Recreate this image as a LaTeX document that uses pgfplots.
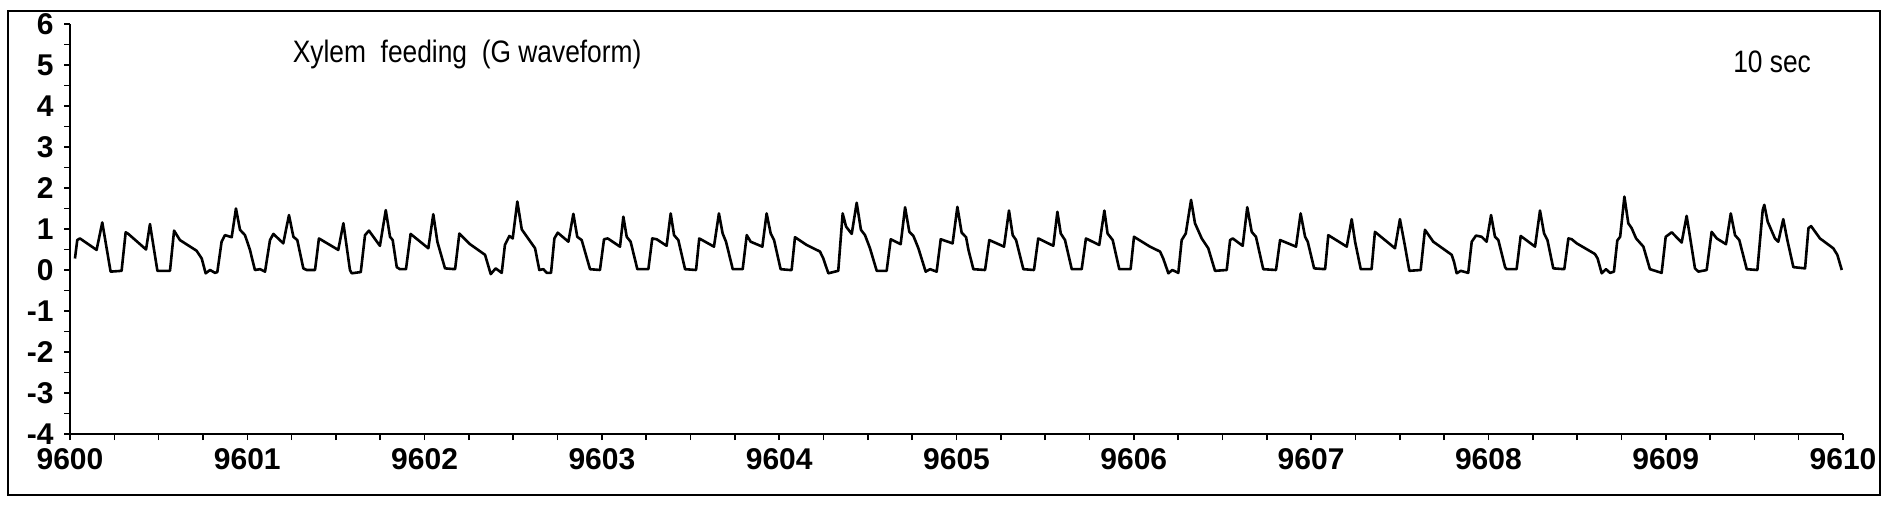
\documentclass[border=0pt]{standalone}
\usepackage{pgfplots}
\pgfplotsset{compat=1.18}
\usepackage{pgfplotstable}
\usepackage{fontspec}
\setmainfont{Liberation Sans}
\newfontfamily\narrowfont[FakeStretch=0.85]{Liberation Sans}
\pgfplotstableread{
t v
9600.028 0.28
9600.041 0.73
9600.056 0.77
9600.150 0.49
9600.182 1.16
9600.229 -0.04
9600.291 -0.02
9600.314 0.92
9600.329 0.88
9600.429 0.50
9600.451 1.12
9600.493 -0.02
9600.564 -0.02
9600.587 0.96
9600.620 0.73
9600.714 0.47
9600.743 0.28
9600.765 -0.08
9600.790 0.00
9600.818 -0.07
9600.831 -0.05
9600.855 0.69
9600.874 0.85
9600.912 0.80
9600.936 1.50
9600.959 0.98
9600.987 0.85
9601.015 0.49
9601.043 0.00
9601.072 0.02
9601.100 -0.04
9601.128 0.73
9601.147 0.88
9601.203 0.65
9601.235 1.34
9601.260 0.81
9601.282 0.73
9601.316 0.04
9601.335 0.00
9601.382 0.00
9601.404 0.77
9601.513 0.49
9601.542 1.14
9601.579 0.00
9601.589 -0.08
9601.640 -0.05
9601.664 0.85
9601.686 0.96
9601.748 0.59
9601.781 1.46
9601.805 0.81
9601.820 0.73
9601.843 0.07
9601.861 0.02
9601.895 0.02
9601.921 0.88
9602.021 0.53
9602.049 1.36
9602.072 0.69
9602.115 0.04
9602.172 0.02
9602.196 0.89
9602.256 0.63
9602.341 0.37
9602.373 -0.10
9602.401 0.04
9602.435 -0.07
9602.453 0.61
9602.478 0.83
9602.497 0.77
9602.523 1.67
9602.548 0.99
9602.623 0.53
9602.647 0.00
9602.670 0.02
9602.689 -0.07
9602.713 -0.07
9602.732 0.77
9602.751 0.91
9602.811 0.69
9602.839 1.37
9602.861 0.81
9602.886 0.73
9602.933 0.02
9602.989 0.00
9603.012 0.75
9603.033 0.77
9603.102 0.57
9603.121 1.30
9603.140 0.81
9603.162 0.69
9603.200 0.02
9603.262 0.02
9603.284 0.77
9603.309 0.75
9603.365 0.59
9603.388 1.38
9603.407 0.85
9603.431 0.73
9603.469 0.02
9603.531 0.00
9603.549 0.77
9603.632 0.57
9603.660 1.38
9603.681 0.89
9603.700 0.69
9603.738 0.02
9603.794 0.02
9603.817 0.85
9603.839 0.69
9603.905 0.57
9603.929 1.38
9603.952 0.89
9603.971 0.73
9604.008 0.02
9604.061 0.00
9604.070 0.00
9604.089 0.80
9604.155 0.61
9604.230 0.45
9604.249 0.28
9604.277 -0.08
9604.333 -0.02
9604.358 1.38
9604.377 1.06
9604.409 0.88
9604.437 1.64
9604.461 0.98
9604.484 0.85
9604.512 0.53
9604.550 -0.02
9604.606 -0.02
9604.629 0.75
9604.685 0.63
9604.710 1.53
9604.734 0.93
9604.757 0.83
9604.785 0.53
9604.826 -0.04
9604.851 0.02
9604.888 -0.04
9604.911 0.75
9604.978 0.65
9605.005 1.54
9605.029 0.91
9605.054 0.80
9605.067 0.50
9605.095 0.02
9605.161 0.00
9605.185 0.73
9605.268 0.57
9605.296 1.45
9605.317 0.85
9605.336 0.73
9605.377 0.02
9605.437 0.00
9605.461 0.77
9605.546 0.59
9605.569 1.42
9605.588 0.89
9605.612 0.73
9605.650 0.02
9605.706 0.02
9605.730 0.77
9605.805 0.61
9605.834 1.45
9605.852 0.89
9605.881 0.73
9605.918 0.02
9605.982 0.02
9606.001 0.81
9606.091 0.57
9606.148 0.45
9606.166 0.28
9606.195 -0.08
9606.217 0.00
9606.251 -0.07
9606.270 0.73
9606.293 0.89
9606.323 1.71
9606.345 1.14
9606.383 0.77
9606.420 0.53
9606.458 -0.02
9606.524 0.00
9606.543 0.73
9606.558 0.77
9606.614 0.59
9606.640 1.53
9606.665 0.93
9606.689 0.81
9606.730 0.02
9606.802 0.00
9606.825 0.73
9606.915 0.57
9606.941 1.38
9606.966 0.81
9606.981 0.69
9607.017 0.04
9607.079 0.02
9607.097 0.85
9607.201 0.57
9607.229 1.24
9607.248 0.69
9607.280 0.02
9607.341 0.02
9607.360 0.93
9607.473 0.53
9607.501 1.24
9607.530 0.57
9607.554 -0.02
9607.618 0.00
9607.642 0.98
9607.689 0.69
9607.793 0.37
9607.806 0.20
9607.821 -0.08
9607.844 -0.02
9607.886 -0.07
9607.906 0.69
9607.930 0.84
9607.962 0.81
9607.990 0.69
9608.015 1.34
9608.037 0.81
9608.056 0.73
9608.094 0.07
9608.103 0.02
9608.159 0.02
9608.182 0.83
9608.263 0.57
9608.291 1.45
9608.314 0.89
9608.333 0.73
9608.366 0.04
9608.428 0.02
9608.451 0.77
9608.470 0.75
9608.498 0.65
9608.601 0.39
9608.616 0.28
9608.639 -0.08
9608.663 0.02
9608.686 -0.07
9608.708 -0.04
9608.727 0.72
9608.743 0.81
9608.767 1.79
9608.789 1.14
9608.808 1.02
9608.833 0.77
9608.874 0.57
9608.911 0.02
9608.977 -0.07
9609.000 0.81
9609.034 0.92
9609.090 0.67
9609.118 1.32
9609.137 0.81
9609.165 0.04
9609.184 -0.04
9609.231 0.00
9609.259 0.93
9609.288 0.77
9609.340 0.63
9609.367 1.38
9609.391 0.85
9609.415 0.73
9609.457 0.02
9609.517 0.00
9609.547 1.46
9609.556 1.59
9609.575 1.18
9609.616 0.77
9609.635 0.69
9609.663 1.24
9609.686 0.73
9609.720 0.07
9609.786 0.04
9609.805 1.02
9609.820 1.07
9609.870 0.77
9609.945 0.53
9609.968 0.37
9609.993 0.00
}\wave
\begin{document}
\begin{tikzpicture}
\useasboundingbox (-35pt,-38pt) rectangle (910pt,217pt);
\draw[line width=0.8pt] (-31pt,-30.5pt) rectangle (905pt,211.5pt);
\begin{axis}[
  at={(0pt,0pt)}, anchor=south west,
  scale only axis, width=886.5pt, height=205pt,
  xmin=9600, xmax=9610, ymin=-4, ymax=6,
  axis lines*=left,
  axis line style={line width=1pt},
  xtick={9600,9601,9602,9603,9604,9605,9606,9607,9608,9609,9610},
  xticklabels={9600,9601,9602,9603,9604,9605,9606,9607,9608,9609,9610},
  ytick={-4,-3,-2,-1,0,1,2,3,4,5,6},
  yticklabels={-4,-3,-2,-1,0,1,2,3,4,5,6},
  minor x tick num=3, minor y tick num=1,
  tick align=outside, major tick length=3pt, minor tick length=3pt,
  tick style={line width=0.8pt, black},
  scaled x ticks=false, scaled y ticks=false,
  ticklabel style={font=\bfseries\fontsize{15}{15}\selectfont, inner sep=0pt},
  xticklabel style={yshift=-4pt},
  yticklabel style={xshift=-5pt},
  clip=false,
]
\addplot[black, line width=1.3pt, line join=round] table[x=t, y=v] {\wave};
\node[font=\narrowfont\fontsize{15.5}{15.5}\selectfont] at (axis cs:9602.24,5.25) {Xylem\ \ feeding\ \ (G waveform)};
\node[font=\narrowfont\fontsize{15.5}{15.5}\selectfont] at (axis cs:9609.6,5.08) {10 sec};
\end{axis}
\end{tikzpicture}
\end{document}
